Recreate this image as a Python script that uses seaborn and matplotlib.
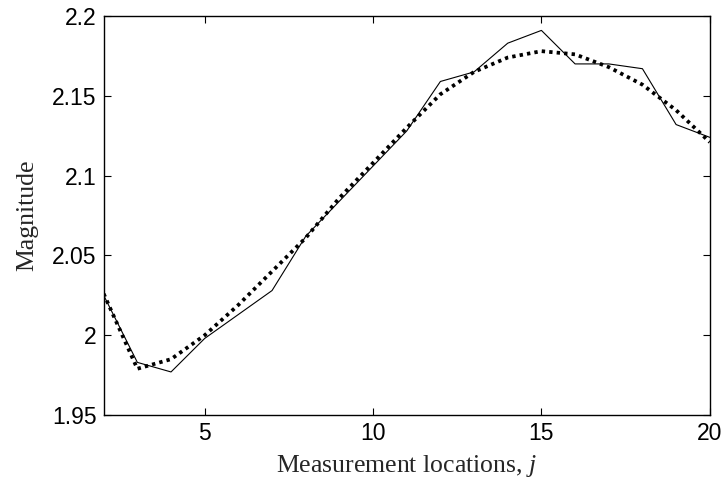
import numpy as np
import pandas as pd
import matplotlib
matplotlib.use("Agg")
import matplotlib.pyplot as plt
import seaborn as sns

locations = list(range(2, 21))
measured = [2.025, 1.983, 1.977, 1.998, 2.013, 2.028, 2.062, 2.084, 2.106,
            2.128, 2.159, 2.165, 2.183, 2.191, 2.170, 2.170, 2.167, 2.132, 2.124]
fitted = [2.026, 1.979, 1.985, 2.000, 2.019, 2.040, 2.061, 2.086, 2.108,
          2.130, 2.151, 2.165, 2.174, 2.178, 2.176, 2.168, 2.157, 2.141, 2.121]

x_ticks = [5, 10, 15, 20]
y_ticks = [1.95, 2.0, 2.05, 2.1, 2.15, 2.2]
y_tick_labels = ["1.95", "2", "2.05", "2.1", "2.15", "2.2"]

df = pd.DataFrame({"j": locations, "measured": measured, "fitted": fitted})

sns.set_style("ticks")
plt.rcParams["font.family"] = ["Liberation Sans", "DejaVu Sans"]
plt.rcParams["mathtext.fontset"] = "custom"
plt.rcParams["mathtext.it"] = "Liberation Serif:italic"
plt.rcParams["mathtext.rm"] = "Liberation Serif"

fig = plt.figure(figsize=(7.25, 4.86), dpi=100)
ax = fig.add_axes([0.143, 0.146, 0.836, 0.821])

sns.lineplot(data=df, x="j", y="measured", ax=ax, color="black", linewidth=0.8)
sns.lineplot(data=df, x="j", y="fitted", ax=ax, color="black", linewidth=2.7,
             linestyle=(0, (0.9, 1.1)))

ax.set_xlim(2, 20)
ax.set_ylim(1.95, 2.2)
ax.set_xticks(x_ticks)
ax.set_yticks(y_ticks)
ax.set_yticklabels(y_tick_labels)
ax.tick_params(direction="in", length=5, width=0.8, top=True, right=True,
               labelsize=16.5, pad=5, colors="black")
for s in ax.spines.values():
    s.set_linewidth(1.0)
    s.set_color("black")

ax.set_xlabel("Measurement locations, $j$", family="Liberation Serif",
              fontsize=18.5, labelpad=6)
ax.set_ylabel("Magnitude", family="Liberation Serif", fontsize=18.5, labelpad=10)

fig.savefig("out.png", dpi=100)
